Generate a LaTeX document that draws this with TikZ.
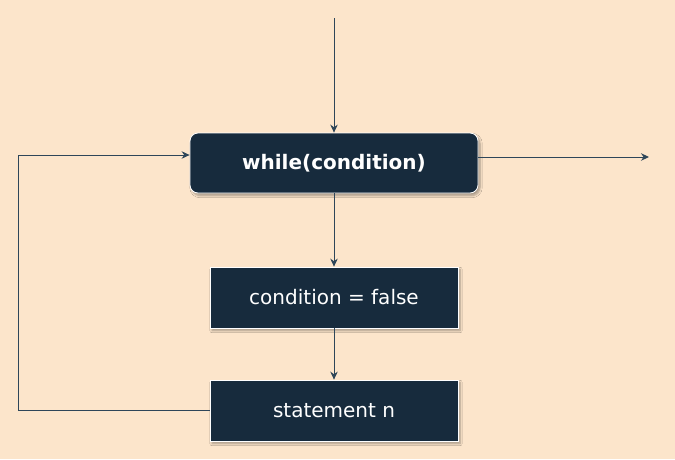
\documentclass[tikz,border=0pt]{standalone}
\usepackage{fontspec}
\setmainfont{DejaVu Sans}
\usetikzlibrary{arrows.meta,shadows.blur,positioning}
\definecolor{bg}{HTML}{FCE5CB}
\definecolor{navy}{HTML}{172B3D}
\definecolor{wire}{HTML}{2E4659}
\tikzset{
  box/.style={draw=white, line width=0.8pt, fill=navy, text=white, inner sep=0pt,
    blur shadow={shadow xshift=2pt, shadow yshift=-2.5pt, shadow blur steps=6, shadow opacity=35}},
  wirearrow/.style={draw=wire, line width=1pt, -{Stealth[length=8pt,width=7.5pt]}},
  wireline/.style={draw=wire, line width=1pt}
}
\begin{document}
\begin{tikzpicture}[x=1pt,y=-1pt]
\fill[bg] (0,0) rectangle (675,459);
\useasboundingbox (0,0) rectangle (675,459);
\node[box, rounded corners=8pt, minimum width=288pt, minimum height=60pt, font=\fontsize{20}{24}\selectfont\bfseries] (w) at (334,163) {while(condition)};
\node[box, minimum width=248pt, minimum height=61pt, font=\fontsize{20}{24}\selectfont] (c) at (334,297.5) {condition = false};
\node[box, minimum width=248pt, minimum height=61pt, font=\fontsize{20}{24}\selectfont] (s) at (334,410.5) {statement n};
\coordinate (top) at (334,18);
\coordinate (rend) at (649,157);
\coordinate (lb) at (18,410.5);
\coordinate (lt) at (18,155);
\draw[wirearrow] (top) -- (w.north);
\draw[wirearrow] (w.south) -- (c.north);
\draw[wirearrow] (c.south) -- (s.north);
\draw[wirearrow] (w.east |- rend) -- (rend);
\draw[wirearrow] (s.west) -- (lb) -- (lt) -- (w.west |- lt);
\end{tikzpicture}
\end{document}
